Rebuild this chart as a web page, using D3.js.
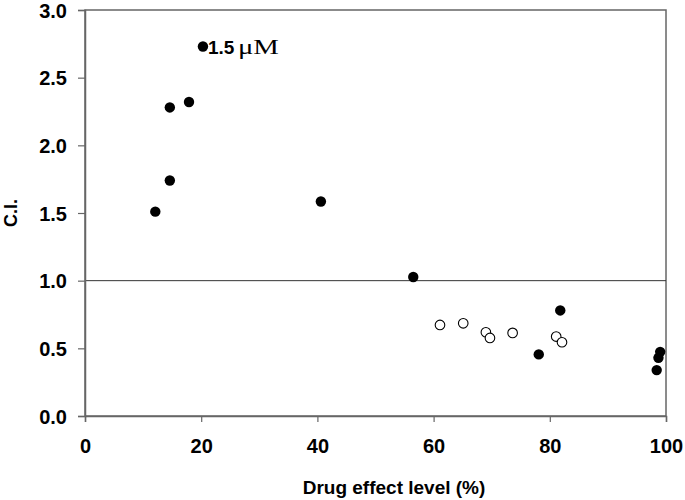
<!DOCTYPE html>
<html>
<head>
<meta charset="utf-8">
<script src="https://cdn.jsdelivr.net/npm/d3@7"></script>
<style>
  body { margin: 0; background: #fff; }
  svg { display: block; }
</style>
</head>
<body>
<svg id="chart" width="685" height="500"></svg>
<script>
// Filled circles (effect level %, C.I.)
const filledX = [12.1, 14.6, 14.6, 17.9, 20.3, 40.6, 56.5, 81.8, 78.1, 99.0, 98.7, 98.4];
const filledY = [1.51, 1.74, 2.28, 2.32, 2.73, 1.585, 1.027, 0.78, 0.455, 0.474, 0.43, 0.339];
// Open circles
const openX = [61.1, 65.1, 69.0, 69.7, 73.6, 81.1, 82.1];
const openY = [0.673, 0.685, 0.619, 0.577, 0.614, 0.587, 0.545];
const xTicks = [0, 20, 40, 60, 80, 100];
const yTicks = [0.0, 0.5, 1.0, 1.5, 2.0, 2.5, 3.0];
const refLine = 1.0;
const annotationIndex = 4;
const annotationNum = "1.5";
const annotationUnit = "\u03BCM";
const xTitle = "Drug effect level (%)";
const yTitle = "C.I.";

const svg = d3.select("#chart");
const m = { left: 85, right: 19, top: 10, bottom: 84 };
const W = 685, H = 500;
const x = d3.scaleLinear().domain([0, 100]).range([m.left, W - m.right]);
const y = d3.scaleLinear().domain([0, 3]).range([H - m.bottom, m.top]);

const axisColor = "#666";
const font = "'Liberation Sans', Arial, sans-serif";

// frame
svg.append("rect")
  .attr("x", x(0)).attr("y", y(3))
  .attr("width", x(100) - x(0)).attr("height", y(0) - y(3))
  .attr("fill", "none").attr("stroke", axisColor).attr("stroke-width", 1.5);

// reference line
svg.append("line")
  .attr("x1", x(0)).attr("x2", x(100))
  .attr("y1", y(refLine)).attr("y2", y(refLine))
  .attr("stroke", "#333").attr("stroke-width", 1);

// axes
const xAxis = svg.append("g")
  .attr("transform", `translate(0,${y(0)})`)
  .call(d3.axisBottom(x).tickValues(xTicks).tickFormat(d3.format("d")).tickSize(6).tickPadding(16));
const yAxis = svg.append("g")
  .attr("transform", `translate(${x(0)},0)`)
  .call(d3.axisLeft(y).tickValues(yTicks).tickFormat(d3.format(".1f")).tickSize(7).tickPadding(11));

[xAxis, yAxis].forEach(g => {
  g.select(".domain").attr("stroke", axisColor).attr("stroke-width", 1.5);
  g.selectAll(".tick line").attr("stroke", axisColor).attr("stroke-width", 1.2);
  g.selectAll(".tick text")
    .attr("fill", "#000")
    .style("font-family", font)
    .style("font-weight", "bold")
    .style("font-size", "20px");
});
xAxis.selectAll(".tick text").attr("dy", "0.71em").attr("y", 23);
yAxis.selectAll(".tick text").attr("dy", "0.36em");

// points
const filled = filledX.map((v, i) => ({ x: v, y: filledY[i] }));
const open = openX.map((v, i) => ({ x: v, y: openY[i] }));

svg.append("g").selectAll("circle").data(open).join("circle")
  .attr("cx", d => x(d.x)).attr("cy", d => y(d.y)).attr("r", 4.8)
  .attr("fill", "#fff").attr("stroke", "#000").attr("stroke-width", 1.1);

svg.append("g").selectAll("circle").data(filled).join("circle")
  .attr("cx", d => x(d.x)).attr("cy", d => y(d.y)).attr("r", 5.2)
  .attr("fill", "#000");

// annotation
const a = filled[annotationIndex];
svg.append("text")
  .attr("x", x(a.x) + 5).attr("y", y(a.y) + 7)
  .attr("fill", "#000")
  .style("font-family", font).style("font-weight", "bold").style("font-size", "19px")
  .text(annotationNum);
svg.append("text")
  .attr("x", x(a.x) + 35).attr("y", y(a.y) + 7)
  .attr("fill", "#000")
  .attr("textLength", 41).attr("lengthAdjust", "spacingAndGlyphs")
  .style("font-family", "'Liberation Serif', 'Times New Roman', serif").style("font-size", "20px")
  .text(annotationUnit);

// titles
svg.append("text")
  .attr("x", 394).attr("y", 494)
  .attr("text-anchor", "middle")
  .style("font-family", font).style("font-weight", "bold").style("font-size", "19px")
  .text(xTitle);

svg.append("text")
  .attr("transform", `translate(17,${213}) rotate(-90)`)
  .attr("text-anchor", "middle")
  .style("font-family", font).style("font-weight", "bold").style("font-size", "18px")
  .text(yTitle);
</script>
</body>
</html>
